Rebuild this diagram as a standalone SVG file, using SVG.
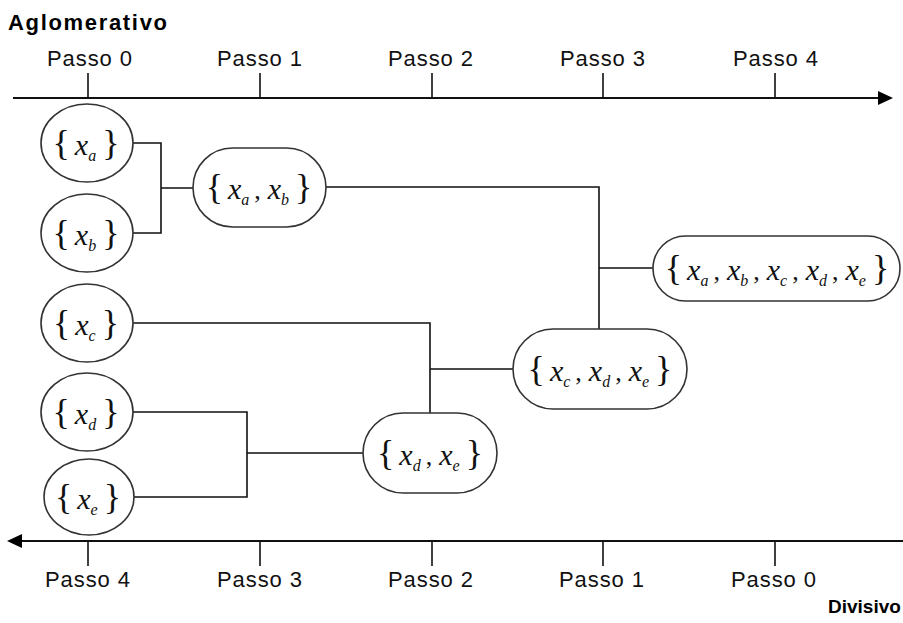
<svg xmlns="http://www.w3.org/2000/svg" width="903" height="623" viewBox="0 0 903 623">
  <style>
    .axis { stroke: #111; stroke-width: 2; fill: none; }
    .tick { stroke: #111; stroke-width: 1.6; }
    .head { fill: #000; }
    .step { font-family: "Liberation Sans", Arial, sans-serif; font-size: 22px; fill: #111; }
    .title { font-family: "Liberation Sans", Arial, sans-serif; font-size: 22px; font-weight: bold; fill: #000; }
    .title.small { font-size: 19px; }
    .node { fill: #fff; stroke: #333; stroke-width: 1.6; }
    .link { stroke: #111; stroke-width: 1.6; fill: none; }
    .math { font-family: "Liberation Serif", "Times New Roman", serif; font-size: 30px; fill: #111; }
    .br { font-style: normal; font-size: 36px; }
    .v { font-style: italic; }
    .sub { font-style: italic; font-size: 16px; }
    .cm { font-size: 26px; }
  </style>

  <!-- Agglomerative axis (top) -->
  <g id="axis-top">
    <text class="title" x="8" y="30" textLength="159" lengthAdjust="spacing">Aglomerativo</text>
    <line class="axis" x1="13" y1="98" x2="880" y2="98"/>
    <polygon class="head" points="878,91 893,98 878,105"/>
    <line class="tick" x1="88" y1="73" x2="88" y2="98"/>
    <line class="tick" x1="260" y1="73" x2="260" y2="98"/>
    <line class="tick" x1="432" y1="73" x2="432" y2="98"/>
    <line class="tick" x1="603" y1="73" x2="603" y2="98"/>
    <line class="tick" x1="775" y1="73" x2="775" y2="98"/>
    <text class="step" x="47" y="66" textLength="85" lengthAdjust="spacing">Passo 0</text>
    <text class="step" x="217" y="66" textLength="85" lengthAdjust="spacing">Passo 1</text>
    <text class="step" x="388" y="66" textLength="85" lengthAdjust="spacing">Passo 2</text>
    <text class="step" x="560" y="66" textLength="85" lengthAdjust="spacing">Passo 3</text>
    <text class="step" x="733" y="66" textLength="85" lengthAdjust="spacing">Passo 4</text>
  </g>

  <!-- Divisive axis (bottom) -->
  <g id="axis-bottom">
    <line class="axis" x1="20" y1="541" x2="903" y2="541"/>
    <polygon class="head" points="22,534 7,541 22,548"/>
    <line class="tick" x1="88" y1="541" x2="88" y2="566"/>
    <line class="tick" x1="260" y1="541" x2="260" y2="566"/>
    <line class="tick" x1="432" y1="541" x2="432" y2="566"/>
    <line class="tick" x1="603" y1="541" x2="603" y2="566"/>
    <line class="tick" x1="775" y1="541" x2="775" y2="566"/>
    <text class="step" x="45" y="587" textLength="85" lengthAdjust="spacing">Passo 4</text>
    <text class="step" x="217" y="587" textLength="85" lengthAdjust="spacing">Passo 3</text>
    <text class="step" x="388" y="587" textLength="85" lengthAdjust="spacing">Passo 2</text>
    <text class="step" x="559" y="587" textLength="85" lengthAdjust="spacing">Passo 1</text>
    <text class="step" x="731" y="587" textLength="85" lengthAdjust="spacing">Passo 0</text>
    <text class="title small" x="828" y="613">Divisivo</text>
  </g>

  <!-- Connectors -->
  <g id="connectors">
    <path class="link" d="M133 143 H161 V233 H133 M161 188 H193"/>
    <path class="link" d="M326 187 H599 V329 M599 268 H653"/>
    <path class="link" d="M133 323 H430 V413 M430 369 H513"/>
    <path class="link" d="M133 412 H247 V497 H134 M247 453 H363"/>
  </g>

  <!-- Singletons -->
  <g id="node-a">
    <ellipse class="node" cx="87" cy="143" rx="46" ry="39"/>
    <text class="math" x="86" y="155" text-anchor="middle"><tspan class="br">{</tspan><tspan class="v" dx="5">x</tspan><tspan class="sub" dy="6">a</tspan><tspan class="br" dy="-6" dx="6">}</tspan></text>
  </g>
  <g id="node-b">
    <ellipse class="node" cx="87" cy="233" rx="46" ry="39"/>
    <text class="math" x="86" y="245" text-anchor="middle"><tspan class="br">{</tspan><tspan class="v" dx="5">x</tspan><tspan class="sub" dy="6">b</tspan><tspan class="br" dy="-6" dx="6">}</tspan></text>
  </g>
  <g id="node-c">
    <ellipse class="node" cx="87" cy="323" rx="46" ry="39"/>
    <text class="math" x="86" y="335" text-anchor="middle"><tspan class="br">{</tspan><tspan class="v" dx="5">x</tspan><tspan class="sub" dy="6">c</tspan><tspan class="br" dy="-6" dx="6">}</tspan></text>
  </g>
  <g id="node-d">
    <ellipse class="node" cx="87" cy="412" rx="46" ry="39"/>
    <text class="math" x="86" y="424" text-anchor="middle"><tspan class="br">{</tspan><tspan class="v" dx="5">x</tspan><tspan class="sub" dy="6">d</tspan><tspan class="br" dy="-6" dx="6">}</tspan></text>
  </g>
  <g id="node-e">
    <ellipse class="node" cx="89" cy="497" rx="45" ry="38"/>
    <text class="math" x="88" y="509" text-anchor="middle"><tspan class="br">{</tspan><tspan class="v" dx="5">x</tspan><tspan class="sub" dy="6">e</tspan><tspan class="br" dy="-6" dx="6">}</tspan></text>
  </g>

  <!-- Merged clusters -->
  <g id="node-ab">
    <rect class="node" x="193" y="148" width="133" height="79" rx="39.5"/>
    <text class="math" x="259" y="199" text-anchor="middle"><tspan class="br">{</tspan><tspan class="v" dx="5">x</tspan><tspan class="sub" dy="6">a</tspan><tspan class="cm" dy="-6" dx="5">,</tspan><tspan class="v" dx="7">x</tspan><tspan class="sub" dy="6">b</tspan><tspan class="br" dy="-6" dx="6">}</tspan></text>
  </g>
  <g id="node-de">
    <rect class="node" x="363" y="413" width="134" height="80" rx="40"/>
    <text class="math" x="430" y="465" text-anchor="middle"><tspan class="br">{</tspan><tspan class="v" dx="5">x</tspan><tspan class="sub" dy="6">d</tspan><tspan class="cm" dy="-6" dx="5">,</tspan><tspan class="v" dx="7">x</tspan><tspan class="sub" dy="6">e</tspan><tspan class="br" dy="-6" dx="6">}</tspan></text>
  </g>
  <g id="node-cde">
    <rect class="node" x="513" y="329" width="174" height="80" rx="40"/>
    <text class="math" x="600" y="381" text-anchor="middle"><tspan class="br">{</tspan><tspan class="v" dx="5">x</tspan><tspan class="sub" dy="6">c</tspan><tspan class="cm" dy="-6" dx="5">,</tspan><tspan class="v" dx="7">x</tspan><tspan class="sub" dy="6">d</tspan><tspan class="cm" dy="-6" dx="5">,</tspan><tspan class="v" dx="7">x</tspan><tspan class="sub" dy="6">e</tspan><tspan class="br" dy="-6" dx="6">}</tspan></text>
  </g>
  <g id="node-abcde">
    <rect class="node" x="653" y="236" width="247" height="65" rx="32.5"/>
    <text class="math" x="777" y="280" text-anchor="middle"><tspan class="br">{</tspan><tspan class="v" dx="5">x</tspan><tspan class="sub" dy="6">a</tspan><tspan class="cm" dy="-6" dx="5">,</tspan><tspan class="v" dx="7">x</tspan><tspan class="sub" dy="6">b</tspan><tspan class="cm" dy="-6" dx="5">,</tspan><tspan class="v" dx="7">x</tspan><tspan class="sub" dy="6">c</tspan><tspan class="cm" dy="-6" dx="5">,</tspan><tspan class="v" dx="7">x</tspan><tspan class="sub" dy="6">d</tspan><tspan class="cm" dy="-6" dx="5">,</tspan><tspan class="v" dx="7">x</tspan><tspan class="sub" dy="6">e</tspan><tspan class="br" dy="-6" dx="6">}</tspan></text>
  </g>
</svg>
